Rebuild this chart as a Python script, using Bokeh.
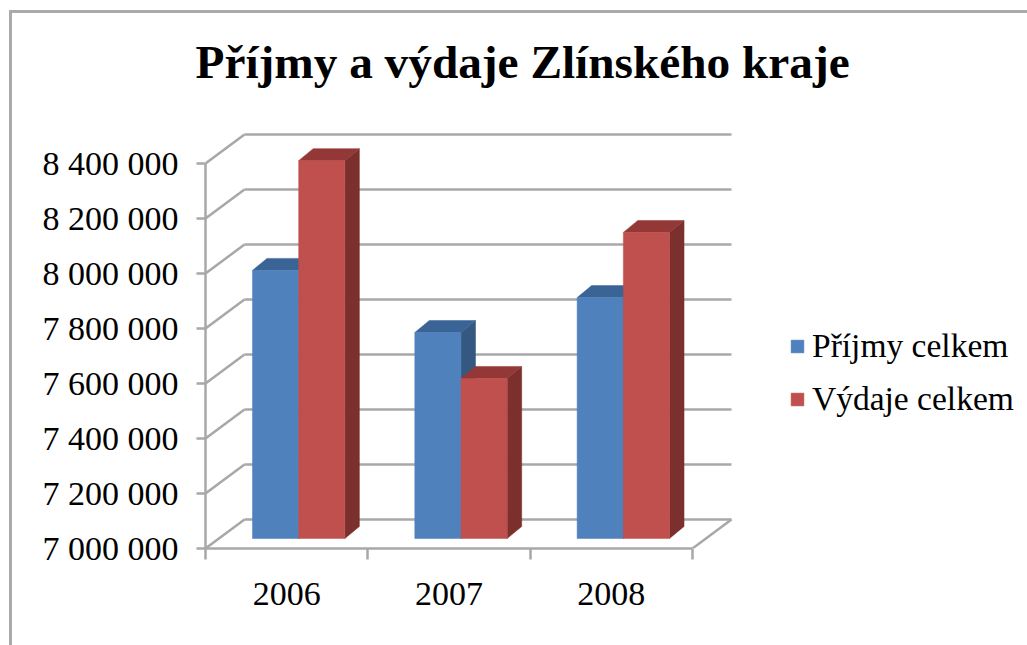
from bokeh.plotting import figure
from bokeh.embed import file_html
from bokeh.resources import INLINE
from bokeh.models import FixedTicker, Legend, LegendItem, Range1d

title = "Příjmy a výdaje Zlínského kraje"
years = ["2006", "2007", "2008"]
series_names = ["Příjmy celkem", "Výdaje celkem"]
prijmy = [7975000, 7749000, 7876000]
vydaje = [8374000, 7582000, 8113000]
y_ticks = [7000000, 7200000, 7400000, 7600000, 7800000, 8000000, 8200000, 8400000]
y_labels = ["7 000 000", "7 200 000", "7 400 000", "7 600 000", "7 800 000", "8 000 000", "8 200 000", "8 400 000"]

FONT = "Liberation Serif"
GRAY = "#a8a8a8"
UX = 3 / 487          # category units per pixel
UY = 200000 / 55      # value units per pixel
BASE = y_ticks[0]

ML, MT = 9, 10                        # figure offset
BORDER = 3
OFFX, OFFY = ML + BORDER, MT + BORDER
W, H = 1027 - ML, 645 - MT
FL, FT, FB = 205 - OFFX, 90 - OFFY, 548 - OFFY   # frame edges inside the figure
p = figure(width=W, height=H, output_backend="svg", toolbar_location=None,
           x_range=Range1d(0, (W - FL) * UX),
           y_range=Range1d(BASE, BASE + (FB - FT) * UY),
           min_border_left=FL, min_border_right=0,
           min_border_top=FT, min_border_bottom=H - FB,
           outline_line_color=None, background_fill_color="white",
           margin=(MT, 0, 0, ML))
p.styles = {"border-top": f"{BORDER}px solid #aaaaaa", "border-left": f"{BORDER}px solid #aaaaaa"}
p.grid.visible = False

# chart title
p.title.text = title
p.title.text_font = FONT
p.title.text_font_size = "47.3px"
p.title.text_font_style = "bold"
p.title.text_color = "black"
p.title.align = "left"
p.title.offset = -10
p.title.vertical_align = "top"
p.title.standoff = 2

# 3-D walls
DX, DY = 39 * UX, 29 * UY
n = len(years)
for v in y_ticks:
    p.segment([0, DX], [v, v + DY], [DX, n + DX], [v + DY, v + DY], line_color=GRAY, line_width=2.5)
p.segment([n], [BASE], [n + DX], [BASE + DY], line_color=GRAY, line_width=2.5)

# bars
OX, OY = 12 * UX, 10 * UY     # bar plane, behind the front edge
BW = 46.2 * UX
SX, SY = 14.5 * UX, 12 * UY     # bar depth


def bars(values, offset, front, top, side):
    x0 = [i + 0.5 + OX + offset * BW for i in range(len(values))]
    x1 = [x + BW for x in x0]
    y0 = [BASE + OY] * len(values)
    y1 = [v + OY for v in values]
    p.patches([[b, b + SX, b + SX, b] for b in x1],
              [[l, l + SY, t + SY, t] for l, t in zip(y0, y1)],
              fill_color=side, line_color=side, line_width=0.5)
    p.patches([[a, a + SX, b + SX, b] for a, b in zip(x0, x1)],
              [[t, t + SY, t + SY, t] for t in y1],
              fill_color=top, line_color=top, line_width=0.5)
    return p.quad(left=x0, right=x1, bottom=y0, top=y1,
                  fill_color=front, line_color=front, line_width=0.5)


r1 = bars(prijmy, -1, "#4f81bd", "#3a6496", "#34587f")
r2 = bars(vydaje, 0, "#c0504d", "#933836", "#7b302e")

# axes
yax = p.yaxis[0]
yax.ticker = FixedTicker(ticks=y_ticks)
yax.major_label_overrides = dict(zip(y_ticks, y_labels))
yax.bounds = (y_ticks[0], y_ticks[-1])
yax.minor_tick_line_color = None
yax.major_tick_in = 0
yax.major_tick_out = 9
yax.major_label_standoff = 18
yax.major_label_text_font = FONT
yax.major_label_text_font_size = "34px"
yax.major_label_text_color = "black"
yax.axis_line_color = GRAY
yax.axis_line_width = 2.5
yax.major_tick_line_color = GRAY
yax.major_tick_line_width = 2.5

xax = p.xaxis[0]
x_pos = [i + 0.5 for i in range(n)]
xax.ticker = FixedTicker(ticks=x_pos, minor_ticks=list(range(n + 1)))
xax.major_label_overrides = dict(zip(x_pos, years))
xax.bounds = (0, n)
xax.major_tick_line_color = None
xax.minor_tick_in = 0
xax.minor_tick_out = 11
xax.minor_tick_line_color = GRAY
xax.minor_tick_line_width = 2.5
xax.major_label_standoff = 23
xax.major_label_text_font = FONT
xax.major_label_text_font_size = "34px"
xax.major_label_text_color = "black"
xax.axis_line_color = GRAY
xax.axis_line_width = 2.5

# legend
legend = Legend(items=[LegendItem(label=series_names[0], renderers=[r1]),
                       LegendItem(label=series_names[1], renderers=[r2])],
                location=(584, 130), orientation="vertical",
                border_line_color=None, background_fill_alpha=0,
                padding=0, margin=0, spacing=15,
                glyph_width=16, glyph_height=16, label_height=20, label_standoff=7,
                label_text_font=FONT, label_text_font_size="33.5px", label_text_color="black",
                label_text_baseline="middle")
p.add_layout(legend, "center")

open("out.html", "w").write(file_html(p, INLINE))
